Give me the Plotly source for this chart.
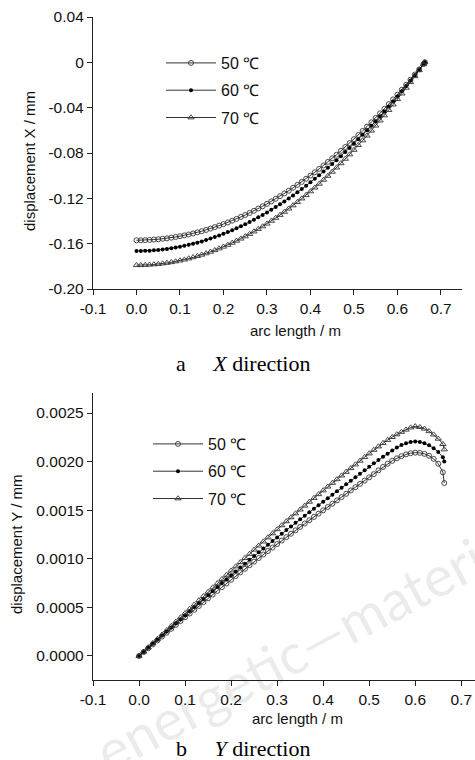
import plotly.graph_objects as go

W, H = 475, 760

# ---------------- data ----------------
arc = [0.00, 0.01, 0.02, 0.03, 0.04, 0.05, 0.06, 0.07, 0.08, 0.09,
       0.10, 0.11, 0.12, 0.13, 0.14, 0.15, 0.16, 0.17, 0.18, 0.19,
       0.20, 0.21, 0.22, 0.23, 0.24, 0.25, 0.26, 0.27, 0.28, 0.29,
       0.30, 0.31, 0.32, 0.33, 0.34, 0.35, 0.36, 0.37, 0.38, 0.39,
       0.40, 0.41, 0.42, 0.43, 0.44, 0.45, 0.46, 0.47, 0.48, 0.49,
       0.50, 0.51, 0.52, 0.53, 0.54, 0.55, 0.56, 0.57, 0.58, 0.59,
       0.60, 0.61, 0.62, 0.63, 0.64, 0.65, 0.66,
       0.663]

dispX_50 = [-0.1570, -0.1570, -0.1569, -0.1567, -0.1564, -0.1561, -0.1557, -0.1553, -0.1547, -0.1541,
            -0.1534, -0.1527, -0.1519, -0.1510, -0.1500, -0.1490, -0.1479, -0.1467, -0.1454, -0.1441,
            -0.1427, -0.1413, -0.1397, -0.1381, -0.1364, -0.1347, -0.1329, -0.1310, -0.1290, -0.1270,
            -0.1249, -0.1227, -0.1204, -0.1181, -0.1157, -0.1133, -0.1107, -0.1081, -0.1055, -0.1027,
            -0.0999, -0.0970, -0.0940, -0.0910, -0.0879, -0.0847, -0.0815, -0.0781, -0.0747, -0.0713,
            -0.0678, -0.0641, -0.0605, -0.0567, -0.0529, -0.0490, -0.0450, -0.0410, -0.0369, -0.0327,
            -0.0285, -0.0242, -0.0198, -0.0153, -0.0108, -0.0062, -0.0015,
            0.0]

dispX_60 = [-0.1665, -0.1665, -0.1663, -0.1662, -0.1659, -0.1656, -0.1651, -0.1646, -0.1641, -0.1634,
            -0.1627, -0.1619, -0.1610, -0.1601, -0.1591, -0.1580, -0.1568, -0.1555, -0.1542, -0.1528,
            -0.1513, -0.1498, -0.1482, -0.1465, -0.1447, -0.1428, -0.1409, -0.1389, -0.1368, -0.1346,
            -0.1324, -0.1301, -0.1277, -0.1252, -0.1227, -0.1201, -0.1174, -0.1146, -0.1118, -0.1089,
            -0.1059, -0.1028, -0.0996, -0.0964, -0.0931, -0.0898, -0.0863, -0.0828, -0.0792, -0.0755,
            -0.0718, -0.0679, -0.0640, -0.0600, -0.0560, -0.0519, -0.0476, -0.0434, -0.0390, -0.0346,
            -0.0301, -0.0255, -0.0208, -0.0161, -0.0113, -0.0064, -0.0014,
            0.0]

dispX_70 = [-0.1790, -0.1790, -0.1788, -0.1786, -0.1783, -0.1780, -0.1775, -0.1770, -0.1764, -0.1757,
            -0.1749, -0.1741, -0.1731, -0.1721, -0.1710, -0.1698, -0.1686, -0.1672, -0.1658, -0.1643,
            -0.1627, -0.1611, -0.1593, -0.1575, -0.1556, -0.1536, -0.1515, -0.1493, -0.1471, -0.1448,
            -0.1424, -0.1399, -0.1373, -0.1347, -0.1320, -0.1291, -0.1263, -0.1233, -0.1202, -0.1171,
            -0.1139, -0.1106, -0.1072, -0.1037, -0.1002, -0.0966, -0.0929, -0.0891, -0.0852, -0.0813,
            -0.0773, -0.0731, -0.0689, -0.0647, -0.0603, -0.0559, -0.0514, -0.0468, -0.0421, -0.0373,
            -0.0325, -0.0276, -0.0225, -0.0175, -0.0123, -0.0070, -0.0017,
            0.0]

dispY_50 = [0.0, 0.000040, 0.000080, 0.000120, 0.000160, 0.000200, 0.000240, 0.000280, 0.000320, 0.000359,
            0.000398, 0.000437, 0.000476, 0.000515, 0.000554, 0.000593, 0.000632, 0.000670, 0.000708, 0.000746,
            0.000784, 0.000822, 0.000860, 0.000897, 0.000934, 0.000971, 0.001008, 0.001044, 0.001080, 0.001116,
            0.001152, 0.001188, 0.001223, 0.001258, 0.001293, 0.001328, 0.001363, 0.001397, 0.001431, 0.001465,
            0.001499, 0.001533, 0.001567, 0.001601, 0.001635, 0.001669, 0.001703, 0.001737, 0.001771, 0.001805,
            0.001838, 0.001871, 0.001910, 0.001945, 0.001978, 0.002008, 0.002034, 0.002056, 0.002074, 0.002086,
            0.002092, 0.002090, 0.002080, 0.002060, 0.002028, 0.001978, 0.001890,
            0.001780]

dispY_60 = [0.0, 0.000042, 0.000084, 0.000126, 0.000168, 0.000210, 0.000252, 0.000294, 0.000336, 0.000378,
            0.000420, 0.000462, 0.000504, 0.000545, 0.000586, 0.000627, 0.000668, 0.000709, 0.000750, 0.000790,
            0.000830, 0.000870, 0.000910, 0.000950, 0.000989, 0.001028, 0.001067, 0.001106, 0.001144, 0.001182,
            0.001220, 0.001258, 0.001296, 0.001333, 0.001370, 0.001407, 0.001444, 0.001480, 0.001516, 0.001552,
            0.001588, 0.001624, 0.001660, 0.001696, 0.001732, 0.001768, 0.001804, 0.001840, 0.001876, 0.001912,
            0.001947, 0.001982, 0.002016, 0.002049, 0.002081, 0.002115, 0.002145, 0.002170, 0.002190, 0.002203,
            0.002208, 0.002203, 0.002190, 0.002168, 0.002138, 0.002100, 0.002045,
            0.002000]

dispY_70 = [0.0, 0.000044, 0.000088, 0.000132, 0.000176, 0.000220, 0.000264, 0.000308, 0.000352, 0.000396,
            0.000440, 0.000484, 0.000528, 0.000572, 0.000616, 0.000660, 0.000704, 0.000747, 0.000791, 0.000834,
            0.000878, 0.000921, 0.000964, 0.001007, 0.001050, 0.001093, 0.001135, 0.001177, 0.001219, 0.001261,
            0.001303, 0.001344, 0.001385, 0.001426, 0.001466, 0.001506, 0.001546, 0.001586, 0.001625, 0.001664,
            0.001703, 0.001742, 0.001780, 0.001818, 0.001856, 0.001894, 0.001932, 0.001970, 0.002008, 0.002046,
            0.002083, 0.002120, 0.002155, 0.002190, 0.002222, 0.002252, 0.002280, 0.002305, 0.002328, 0.002350,
            0.002363, 0.002355, 0.002338, 0.002312, 0.002278, 0.002235, 0.002180,
            0.002125]

series_names = ["50 \u2103", "60 \u2103", "70 \u2103"]

x_tickvals = [-0.1, 0.0, 0.1, 0.2, 0.3, 0.4, 0.5, 0.6, 0.7]
x_ticktext = ["-0.1", "0.0", "0.1", "0.2", "0.3", "0.4", "0.5", "0.6", "0.7"]
yX_tickvals = [0.04, 0.0, -0.04, -0.08, -0.12, -0.16, -0.20]
yX_ticktext = ["0.04", "0", "-0.04", "-0.08", "-0.12", "-0.16", "-0.20"]
yY_tickvals = [0.0, 0.0005, 0.0010, 0.0015, 0.0020, 0.0025]
yY_ticktext = ["0.0000", "0.0005", "0.0010", "0.0015", "0.0020", "0.0025"]

# ---------------- helpers ----------------
def px(x):
    return x / W

def py(y):
    return 1 - y / H

SANS = "Liberation Sans, Arial, sans-serif"
SERIF = "Liberation Serif, Times New Roman, serif"

marker_styles = [
    dict(symbol="circle-open", size=5, color="#333333", line=dict(width=0.9, color="#333333")),
    dict(symbol="circle", size=4, color="#000000", line=dict(width=0)),
    dict(symbol="triangle-up-open", size=5.5, color="#333333", line=dict(width=0.9, color="#333333")),
]

fig = go.Figure()

top_series = [dispX_50, dispX_60, dispX_70]
bot_series = [dispY_50, dispY_60, dispY_70]

for i, (name, ys) in enumerate(zip(series_names, top_series)):
    fig.add_trace(go.Scatter(
        x=arc, y=ys, name=name, mode="lines+markers",
        line=dict(color="#000000", width=0.8),
        marker=marker_styles[i], xaxis="x", yaxis="y",
        legend="legend", legendgroup="a%d" % i,
    ))

for i, (name, ys) in enumerate(zip(series_names, bot_series)):
    fig.add_trace(go.Scatter(
        x=arc, y=ys, name=name, mode="lines+markers",
        line=dict(color="#000000", width=0.8),
        marker=marker_styles[i], xaxis="x2", yaxis="y2",
        legend="legend2", legendgroup="b%d" % i,
    ))

axis_common = dict(
    showline=True, linecolor="#222222", linewidth=1.3,
    ticks="outside", ticklen=5, tickwidth=1.2, tickcolor="#222222",
    showgrid=False, zeroline=False, mirror=False, automargin=False,
    tickfont=dict(family=SANS, size=15.5, color="#111111"),
)

legend_common = dict(
    bgcolor="rgba(0,0,0,0)", font=dict(family=SANS, size=16, color="#111111"),
    xanchor="left", yanchor="top", itemwidth=50, tracegroupgap=3.5,
    itemclick=False,
)

fig.update_layout(
    width=W, height=H, margin=dict(l=0, r=0, t=0, b=0, autoexpand=False),
    paper_bgcolor="white", plot_bgcolor="white",
    showlegend=True,
    xaxis=dict(domain=[px(93), px(462)], range=[-0.1, 0.7484], anchor="y",
               tickvals=x_tickvals, ticktext=x_ticktext, **axis_common),
    yaxis=dict(domain=[py(289), py(17)], range=[-0.20, 0.04], anchor="x",
               tickvals=yX_tickvals, ticktext=yX_ticktext, **axis_common),
    xaxis2=dict(domain=[px(93), px(475)], range=[-0.1, 0.7298], anchor="y2",
                tickvals=x_tickvals, ticktext=x_ticktext, **axis_common),
    yaxis2=dict(domain=[py(680), py(393)], range=[-0.000247, 0.002706], anchor="x2",
                tickvals=yY_tickvals, ticktext=yY_ticktext, **axis_common),
    legend=dict(x=px(161), y=py(46), **legend_common),
    legend2=dict(x=px(148), y=py(427), **legend_common),
)

title_font = dict(family=SANS, size=15, color="#111111")
cap_font = dict(family=SERIF, size=22, color="#000000")
annos = [
    dict(text="displacement X / mm", x=px(30), y=py(161), textangle=-90, font=title_font),
    dict(text="arc length / m", x=px(295), y=py(330), font=title_font),
    dict(text="a\u00a0\u00a0\u00a0\u00a0\u00a0<i>X</i> direction", x=px(243), y=py(363), font=cap_font),
    dict(text="displacement Y / mm", x=px(16), y=py(544), textangle=-90, font=title_font),
    dict(text="arc length / m", x=px(297), y=py(718), font=title_font),
    dict(text="b\u00a0\u00a0\u00a0\u00a0\u00a0<i>Y</i> direction", x=px(243), y=py(748), font=cap_font),
    dict(text="energetic\u2014materials", x=px(318), y=py(638), textangle=-28,
         font=dict(family="Lato, sans-serif", size=56, color="rgba(0,0,0,0.08)")),
]
for a in annos:
    a.update(xref="paper", yref="paper", showarrow=False, xanchor="center", yanchor="middle")
fig.update_layout(annotations=annos)

fig.write_html("out.html", post_script="document.body.style.margin='0px';",
               config={"displayModeBar": False})
